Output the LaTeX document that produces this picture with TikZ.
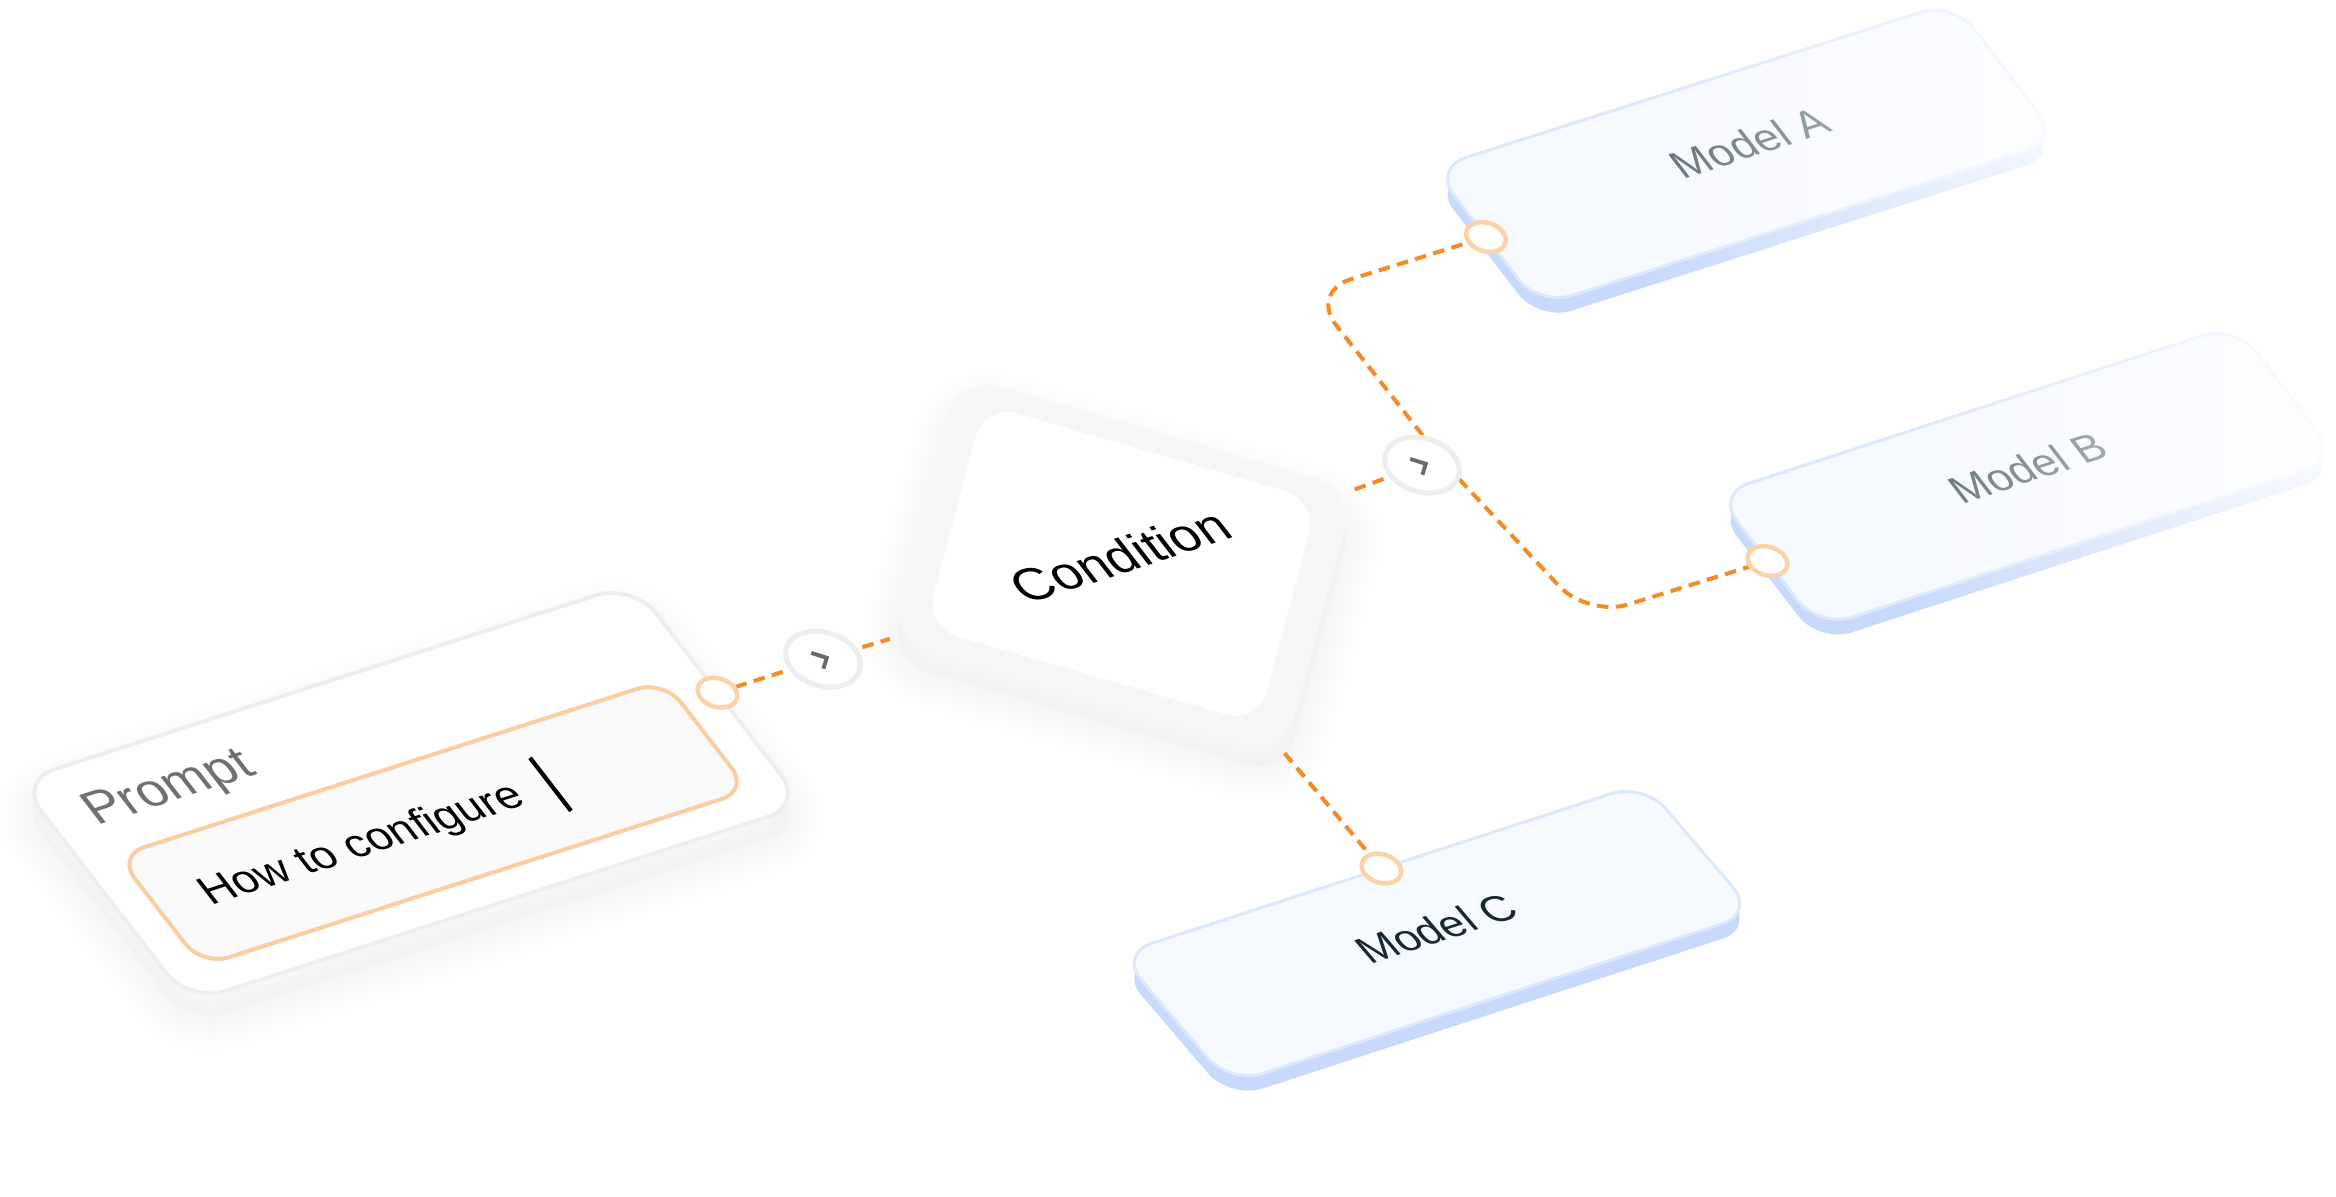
\documentclass[tikz,border=0pt]{standalone}
\usepackage{fontspec}
\setmainfont{Liberation Sans}
\usetikzlibrary{fadings}
\pgfdeclarelayer{back}
\pgfdeclarelayer{shadow}
\pgfdeclarelayer{wires}
\pgfsetlayers{back,shadow,wires,main}
\definecolor{wire}{RGB}{242,140,40}
\definecolor{portring}{RGB}{251,211,168}
\definecolor{promptborder}{RGB}{238,238,238}
\definecolor{inputfill}{RGB}{250,250,250}
\definecolor{inputborder}{RGB}{249,207,162}
\definecolor{condouter}{RGB}{246,246,246}
\definecolor{jring}{RGB}{238,238,238}
\definecolor{chevcol}{RGB}{105,105,105}
\definecolor{mface}{RGB}{246,249,255}
\definecolor{mborder}{RGB}{220,232,253}
\definecolor{mslab}{RGB}{199,218,252}
\definecolor{mtextA}{RGB}{95,110,114}
\definecolor{mtextC}{RGB}{24,40,47}
\definecolor{labelgray}{RGB}{112,112,112}
\tikzfading[name=fadeinright, left color=transparent!100, right color=transparent!8]
% rounded rectangle path in local coordinates: x0,y0,x1,y1,r
\newcommand\rrect[5]{(#1+#5,#2) -- (#3-#5,#2) .. controls (#3-0.448*#5,#2) and (#3,#2+0.448*#5) .. (#3,#2+#5) -- (#3,#4-#5) .. controls (#3,#4-0.448*#5) and (#3-0.448*#5,#4) .. (#3-#5,#4) -- (#1+#5,#4) .. controls (#1+0.448*#5,#4) and (#1,#4-0.448*#5) .. (#1,#4-#5) -- (#1,#2+#5) .. controls (#1,#2+0.448*#5) and (#1+0.448*#5,#2) .. (#1+#5,#2) -- cycle}
\begin{document}
\begin{tikzpicture}[x=0.01cm, y=-0.01cm,
  cardframe/.style n args={6}{shift={(#1,#2)}, cm={#3,#4,#5,#6,(0,0)}},
  inplane/.style={shift={#1}, cm={0.9522,0.3058,-0.6111,0.7916,(0,0)}},
  conn/.style={draw=wire, line width=1.15pt, dash pattern=on 3.3pt off 2.1pt},
  portc/.style={fill=white, draw=portring, line width=1.3pt},
  junc/.style={fill=white, draw=jring, line width=1.45pt},
  chevron/.style={draw=chevcol, line width=1.1pt},
  mlabel/.style={transform shape, inner sep=0pt, font=\fontsize{12.2}{14}\selectfont},
]
\begin{pgfonlayer}{back}
\fill[white] (0,0) rectangle (2336,1196);
\end{pgfonlayer}
\useasboundingbox (0,0) rectangle (2336,1196);

% ---------- soft shadows ----------
\begin{pgfonlayer}{shadow}
\begin{scope}[cardframe={18}{803}{0.9522}{0.3058}{-0.6111}{0.7916}]
\path[fill=black, fill opacity=0.015] \rrect{0}{0}{646}{280}{38};
\foreach \w in {2,4,...,20}{\path[draw=black, draw opacity=0.0035, line width=\w pt] \rrect{0}{0}{646}{280}{38};}
\end{scope}
\begin{scope}[cardframe={960}{397}{0.9604}{-0.2784}{0.2568}{0.9666}]
\path[fill=black, fill opacity=0.015] \rrect{0}{0}{411}{273}{40};
\foreach \w in {2,4,...,20}{\path[draw=black, draw opacity=0.0035, line width=\w pt] \rrect{0}{0}{411}{273}{40};}
\end{scope}
\end{pgfonlayer}

% ---------- Prompt card ----------
\begin{scope}[cardframe={18}{781}{0.9522}{0.3058}{-0.6111}{0.7916}]
\path[fill=white, draw=promptborder, line width=1.1pt] \rrect{0}{0}{646}{280}{38};
\path[fill=inputfill, draw=inputborder, line width=1.15pt] \rrect{35}{108}{609}{247}{28};
\node[transform shape, anchor=base west, inner sep=0pt, text=labelgray, font=\fontsize{14.9}{17}\selectfont] (plabel) at (37,71) {Prompt};
\node[transform shape, anchor=base west, inner sep=0pt, text=black, font=\fontsize{12.6}{15}\selectfont] (pinput) at (81,189) {How to configure};
\draw[line width=1.2pt] (446,143) -- (446,210);
\coordinate (pport) at (646,138);
\end{scope}

% ---------- Condition card ----------
\begin{scope}[cardframe={960}{375}{0.9604}{-0.2784}{0.2568}{0.9666}]
\path[fill=condouter] \rrect{0}{0}{411}{273}{40};
\path[fill=white] \rrect{31}{21}{378}{252}{34};
\coordinate (cL) at (0,273);
\coordinate (cR) at (411,0);
\coordinate (cB) at (411,273);
\end{scope}
\begin{scope}[inplane={(1120,556)}]
\node[transform shape, inner sep=0pt, font=\fontsize{14.8}{17}\selectfont] (ctext) at (0,0) {Condition};
\end{scope}

% ---------- Model A ----------
\begin{scope}[cardframe={1433}{183}{0.9526}{0.3041}{-0.6092}{0.7931}]
\path[fill=mslab] \rrect{0}{0}{546}{174}{34};
\end{scope}
\begin{scope}[cardframe={1433}{168}{0.9526}{0.3041}{-0.6092}{0.7931}]
\path[fill=mface, draw=mborder, line width=0.85pt] \rrect{0}{0}{546}{174}{34};
\node[mlabel, text=mtextA] (mA) at (283,77) {Model A};
\coordinate (aport) at (0,87);
\end{scope}

% ---------- Model B ----------
\begin{scope}[cardframe={1716}{509}{0.9509}{0.3096}{-0.6095}{0.7929}]
\path[fill=mslab] \rrect{0}{0}{546}{169}{34};
\end{scope}
\begin{scope}[cardframe={1716}{494}{0.9509}{0.3096}{-0.6095}{0.7929}]
\path[fill=mface, draw=mborder, line width=0.85pt] \rrect{0}{0}{546}{169}{34};
\node[mlabel, text=mtextA] (mB) at (279,76) {Model B};
\coordinate (bport) at (0,84.5);
\end{scope}

% ---------- Model C ----------
\begin{scope}[cardframe={1119}{969}{0.9509}{0.3097}{-0.6495}{0.7606}]
\path[fill=mslab] \rrect{0}{0}{552}{171}{34};
\end{scope}
\begin{scope}[cardframe={1119}{954}{0.9509}{0.3097}{-0.6495}{0.7606}]
\path[fill=mface, draw=mborder, line width=0.85pt] \rrect{0}{0}{552}{171}{34};
\node[mlabel, text=mtextC] (mC) at (279,80) {Model C};
\coordinate (cport) at (276,0);
\end{scope}

% ---------- junction and bend points ----------
\coordinate (j1) at (823,659);
\coordinate (j2) at (1422,465);
\coordinate (hub) at (1446,465);
\coordinate (bendA) at (1310,292);
\coordinate (bendB) at (1588,617);

% ---------- connectors ----------
\begin{pgfonlayer}{wires}
\draw[conn] (pport) -- (j1) -- (cL);
\draw[conn] (cR) -- (j2);
\draw[conn, rounded corners=12pt] (hub) -- (bendA) -- (aport);
\draw[conn, rounded corners=12pt] (hub) -- (bendB) -- (bport);
\draw[conn] (cB) -- (cport);
\end{pgfonlayer}

\begin{scope}[inplane={(j1)}]
\path[junc] (0,0) circle[radius=33];
\draw[chevron] (-6,-10) -- (4,0) -- (-6,10);
\end{scope}
\begin{scope}[inplane={(j2)}]
\path[junc] (0,0) circle[radius=33];
\draw[chevron] (-6,-10) -- (4,0) -- (-6,10);
\end{scope}

% ---------- ports ----------
\path[portc, inplane={(pport)}] (0,0) circle[radius=17.5];
\path[portc, inplane={(aport)}] (0,0) circle[radius=17.5];
\path[portc, inplane={(bport)}] (0,0) circle[radius=17.5];
\path[portc, inplane={(cport)}] (0,0) circle[radius=17.5];

% ---------- fade of the far cards ----------
\fill[white, path fading=fadeinright] (1640,-10) rectangle (2110,330);
\fill[white, path fading=fadeinright] (1900,300) rectangle (2346,650);
\end{tikzpicture}
\end{document}
